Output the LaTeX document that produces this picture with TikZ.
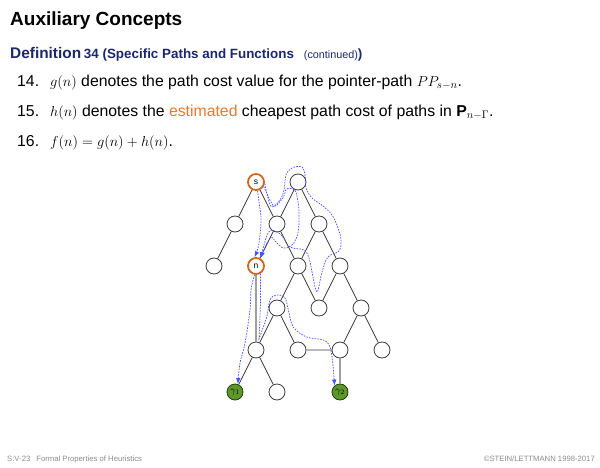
\documentclass[tikz,border=0pt]{standalone}
\usepackage{fontspec}
\setmainfont{Liberation Sans}
\setsansfont{Liberation Sans}
\usetikzlibrary{arrows.meta,positioning}
\definecolor{defblue}{RGB}{28,40,108}
\definecolor{hlorange}{RGB}{236,120,40}
\definecolor{vtxorange}{RGB}{205,105,25}
\definecolor{goalgreen}{RGB}{92,152,42}
\definecolor{pathblue}{RGB}{70,80,255}
\definecolor{edgegray}{RGB}{60,60,60}
\definecolor{footgray}{RGB}{140,140,140}
\tikzset{
  vtx/.style={circle,draw=edgegray,fill=white,line width=0.8pt,minimum size=16pt,inner sep=0pt,font=\fontsize{8.5}{8.5}\selectfont},
  stvtx/.style={vtx,draw=vtxorange,line width=1.8pt},
  goalvtx/.style={vtx,fill=goalgreen,draw=black!60!goalgreen,font=\fontsize{10}{10}\selectfont},
  edg/.style={draw=edgegray,line width=0.8pt},
  ptredg/.style={draw=gray!75,line width=1.6pt},
  pth/.style={pathblue,line width=0.7pt,dash pattern=on 1.6pt off 1.2pt,-{Latex[length=6pt,width=4.5pt]}},
  txt/.style={anchor=base west,inner sep=0pt,font=\fontsize{15.8}{18}\selectfont},
  foot/.style={anchor=base west,inner sep=0pt,text=footgray,font=\fontsize{7.7}{9}\selectfont}
}
\begin{document}
\begin{tikzpicture}[x=1pt,y=1pt,node distance=42pt and 21pt,on grid]
  \useasboundingbox (0,0) rectangle (600,467);

  % slide text
  \node[anchor=base west,inner sep=0pt] (title) at (10,441) {\fontsize{19}{22}\selectfont\bfseries Auxiliary Concepts};
  \node[anchor=base west,inner sep=0pt,text=defblue] (defn) at (10,408.7) {\bfseries{\fontsize{15.4}{18}\selectfont Definition} {\fontsize{13.4}{15}\selectfont 34 (Specific Paths and Functions}\hspace{10pt}{\fontsize{10.8}{12}\selectfont\mdseries (continued)}{\fontsize{13.4}{15}\selectfont )}};
  \node[txt] (item14) at (17,381) {\makebox[33pt][l]{14.}$g(n)$ denotes the path cost value for the pointer-path $PP_{s-n}$.};
  \node[txt] (item15) at (17,351) {\makebox[33pt][l]{15.}$h(n)$ denotes the \textcolor{hlorange}{estimated} cheapest path cost of paths in $\mathbf{P}_{n-\Gamma}$.};
  \node[txt] (item16) at (17,321) {\makebox[33pt][l]{16.}$f(n)=g(n)+h(n)$.};

  % search tree
  \node[stvtx] (s) at (256,285) {s};
  \node[vtx, right=42pt of s] (r) {};
  \node[vtx, below left=of s] (a1) {};
  \node[vtx, below right=of s] (a2) {};
  \node[vtx, below right=of r] (a3) {};
  \node[vtx, below left=of a1] (b1) {};
  \node[stvtx, below left=of a2] (n) {n};
  \node[vtx, below right=of a2] (b3) {};
  \node[vtx, below right=of a3] (b4) {};
  \node[vtx, below left=of b3] (c1) {};
  \node[vtx, below right=of b3] (c2) {};
  \node[vtx, below right=of b4] (c3) {};
  \node[vtx, below left=of c1] (d1) {};
  \node[vtx, below right=of c1] (d2) {};
  \node[vtx, below left=of c3] (d3) {};
  \node[vtx, below right=of c3] (d4) {};
  \node[goalvtx, below left=of d1] (g1) {$\gamma_1$};
  \node[vtx, below right=of d1] (e2) {};
  \node[goalvtx, below=of d3] (g2) {$\gamma_2$};

  \draw[edg] (s)--(a1) (s)--(a2) (r)--(a2) (r)--(a3);
  \draw[edg] (a1)--(b1) (a2)--(n) (a2)--(b3) (a3)--(b3) (a3)--(b4);
  \draw[edg] (b3)--(c1) (b3)--(c2) (b4)--(c2) (b4)--(c3);
  \draw[edg] (c1)--(d1) (c1)--(d2) (c3)--(d3) (c3)--(d4);
  \draw[edg] (d1)--(g1) (d1)--(e2) (d2)--(d3);
  \draw[ptredg] (n)--(d1);
  \draw[ptredg] (d3)--(g2);

  % paths s -> n
  \draw[pth] plot[smooth,tension=0.6] coordinates {(s.-80) (259,265) (261,249) (260,232) (258,219) (n.100)};
  \draw[pth] plot[smooth,tension=0.6] coordinates {(s.-10) (268,269) (272,260) (280,267) (284,277) (286,292) (292,299) (302,300) (305,292) (306,279) (312,269) (323,261) (332,252) (338,239) (341,227) (339,216) (328,210) (322,195) (317,175) (312,195) (309,209) (304,217) (290,220) (282,231) (275,236) (268,234) (n.60)};
  \draw[pth] plot[smooth,tension=0.6] coordinates {(s.-30) (270,267) (275,261) (283.5,270) (286.6,278) (294.6,277) (297.7,267) (299,254.5) (298.7,239) (296,228) (291,221) (283,219) (276,225) (270,229) (n.60)};
  % paths n -> goals
  \draw[pth] plot[smooth,tension=0.6] coordinates {(n.-100) (251,177) (250,157) (245,124) (240,104) (g1.70)};
  \draw[pth] plot[smooth,tension=0.6] coordinates {(n.-60) (260.5,165) (259,128)} -- plot[smooth,tension=0.6] coordinates {(259,128) (266.7,150) (270,167) (276.7,172) (285,169) (288.3,157) (293.3,140) (306.7,130) (323.3,127) (330,120) (332.7,104) (g2.130)};

  % footer
  \node[foot] (fleft) at (7,6) {S:V-23\hspace{6pt}Formal Properties of Heuristics};
  \node[foot,anchor=base east] (fright) at (595,6) {©STEIN/LETTMANN 1998-2017};
\end{tikzpicture}
\end{document}
